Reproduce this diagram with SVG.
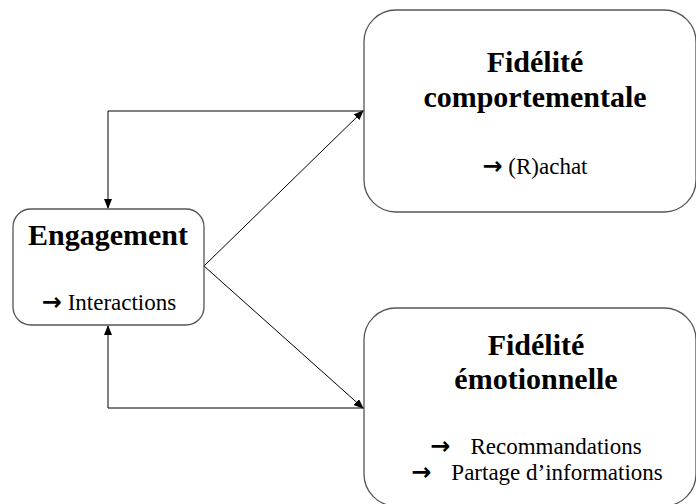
<svg xmlns="http://www.w3.org/2000/svg" width="696" height="504" viewBox="0 0 696 504">
<style>
.box{fill:#fff;stroke:#555;stroke-width:1.3}
.ttl{font-family:"Liberation Serif",serif;font-weight:bold;font-size:30px;fill:#000;text-anchor:middle}
.txt{font-family:"Liberation Serif",serif;font-size:23px;fill:#000;text-anchor:middle}
.arr{font-family:"DejaVu Sans",sans-serif;font-weight:bold;font-size:24px}
.con{fill:none;stroke:#000;stroke-width:1}
</style>
<defs>
<marker id="ah" markerWidth="10" markerHeight="8" refX="9" refY="4" orient="auto" markerUnits="userSpaceOnUse">
<path d="M0,0 L10,4 L0,8 Z" fill="#000"/>
</marker>
</defs>
<rect width="696" height="504" fill="#fff"/>
<g id="connectors">
<line class="con" x1="204" y1="266" x2="363" y2="111" marker-end="url(#ah)"/>
<line class="con" x1="204" y1="266" x2="363" y2="408" marker-end="url(#ah)"/>
<polyline class="con" points="364,111 108,111 108,208" marker-end="url(#ah)"/>
<polyline class="con" points="364,408 108,408 108,326" marker-end="url(#ah)"/>
</g>
<g id="engagement">
<rect class="box" x="13" y="209" width="191" height="116" rx="18"/>
<text class="ttl" x="108" y="245">Engagement</text>
<text class="txt" x="109" y="310"><tspan class="arr">→</tspan> Interactions</text>
</g>
<g id="fidelite-comportementale">
<rect class="box" x="364" y="10" width="332" height="202" rx="32"/>
<text class="ttl" x="535" y="72">Fidélité</text>
<text class="ttl" x="535" y="107">comportementale</text>
<text class="txt" x="535" y="174"><tspan class="arr">→</tspan> (R)achat</text>
</g>
<g id="fidelite-emotionnelle">
<rect class="box" x="364" y="308" width="332" height="198" rx="32"/>
<text class="ttl" x="536" y="355">Fidélité</text>
<text class="ttl" x="536" y="389">émotionnelle</text>
<text class="txt" x="536" y="454"><tspan class="arr">→</tspan><tspan dx="20">Recommandations</tspan></text>
<text class="txt" x="537" y="480"><tspan class="arr">→</tspan><tspan dx="20">Partage d’informations</tspan></text>
</g>
</svg>
